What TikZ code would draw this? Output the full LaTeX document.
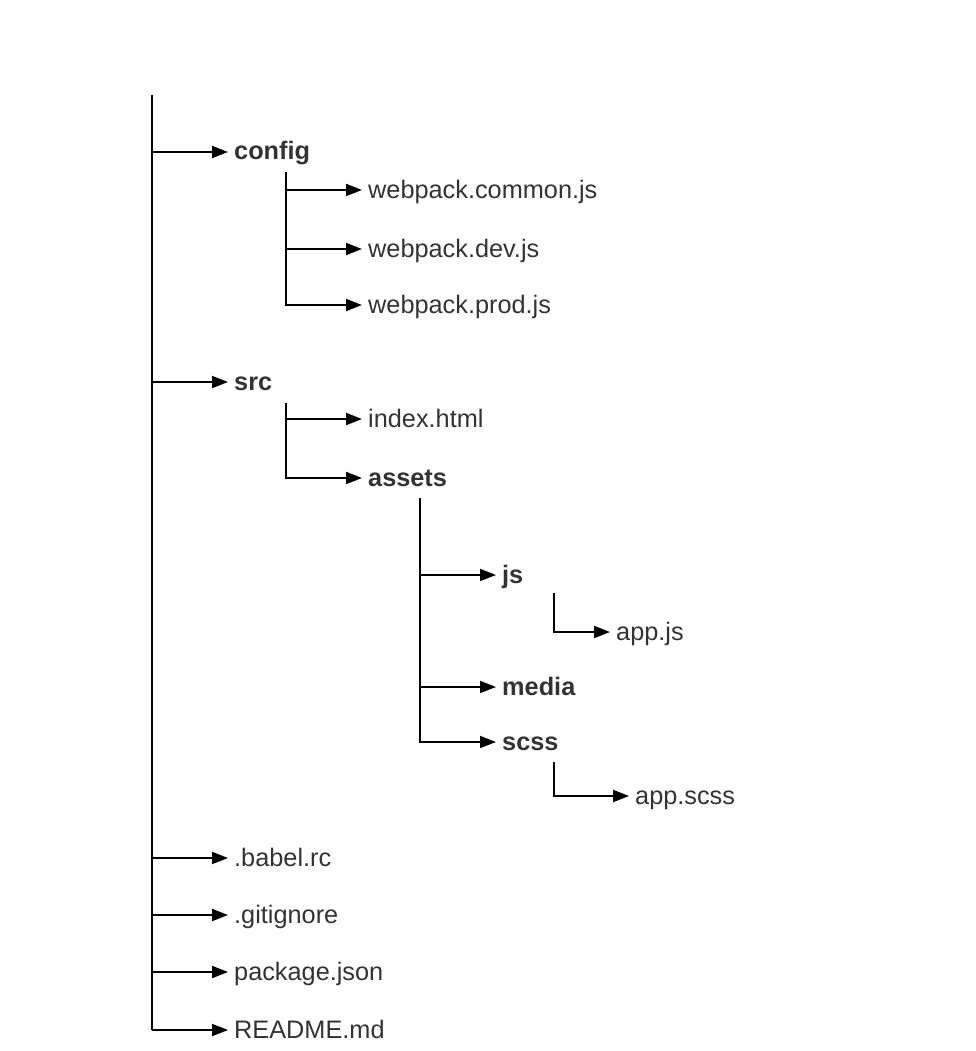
\documentclass[tikz,border=0pt]{standalone}
\usepackage{fontspec}
\setmainfont{Liberation Sans}
\usetikzlibrary{arrows.meta}
\definecolor{txt}{HTML}{333333}
\tikzset{
  arr/.style={line width=1.9pt, -{Triangle[length=16pt,width=12pt]}},
  trunk/.style={line width=1.9pt},
  item/.style={anchor=west, inner xsep=6pt, inner ysep=0pt, text=txt, font=\fontsize{25.3}{30}\selectfont, text height=19pt, text depth=3pt},
  dir/.style={item, font=\fontsize{25.3}{30}\selectfont\bfseries}
}
\begin{document}
\begin{tikzpicture}[x=1pt,y=-1pt]
\useasboundingbox (0,0) rectangle (975,1051);
% level 1
\coordinate (root) at (152,95);
\coordinate (rootend) at (152,1030);
\node[dir]  (config) at (228,152) {config};
\node[dir]  (src)    at (228,382) {src};
\node[item] (babel)  at (228,858) {.babel.rc};
\node[item] (git)    at (228,915) {.gitignore};
\node[item] (pkg)    at (228,972) {package.json};
\node[item] (readme) at (228,1030) {README.md};
% config children
\coordinate (cfgtop) at (286,172);
\node[item] (wc) at (362,190) {webpack.common.js};
\node[item] (wd) at (362,249) {webpack.dev.js};
\node[item] (wp) at (362,305) {webpack.prod.js};
% src children
\coordinate (srctop) at (286,403);
\node[item] (idx)    at (362,419) {index.html};
\node[dir]  (assets) at (362,478) {assets};
% assets children
\coordinate (asttop) at (420,498);
\node[dir] (js)    at (496,575) {js};
\node[dir] (media) at (496,687) {media};
\node[dir] (scss)  at (496,742) {scss};
% js children
\coordinate (jstop) at (554,593);
\node[item] (appjs) at (610,632) {app.js};
% scss children
\coordinate (scsstop) at (554,762);
\node[item] (appscss) at (629,796) {app.scss};

% connectors
\draw[trunk] (root) -- (rootend);
\draw[arr] (root|-config.west) -- (config.west);
\draw[arr] (root|-src.west) -- (src.west);
\draw[arr] (root|-babel.west) -- (babel.west);
\draw[arr] (root|-git.west) -- (git.west);
\draw[arr] (root|-pkg.west) -- (pkg.west);
\draw[arr] (rootend) -- (readme.west);

\draw[arr] (cfgtop) |- (wp.west);
\draw[arr] (cfgtop|-wc.west) -- (wc.west);
\draw[arr] (cfgtop|-wd.west) -- (wd.west);

\draw[arr] (srctop) |- (assets.west);
\draw[arr] (srctop|-idx.west) -- (idx.west);

\draw[arr] (asttop) |- (scss.west);
\draw[arr] (asttop|-js.west) -- (js.west);
\draw[arr] (asttop|-media.west) -- (media.west);

\draw[arr] (jstop) |- (appjs.west);
\draw[arr] (scsstop) |- (appscss.west);
\end{tikzpicture}
\end{document}
